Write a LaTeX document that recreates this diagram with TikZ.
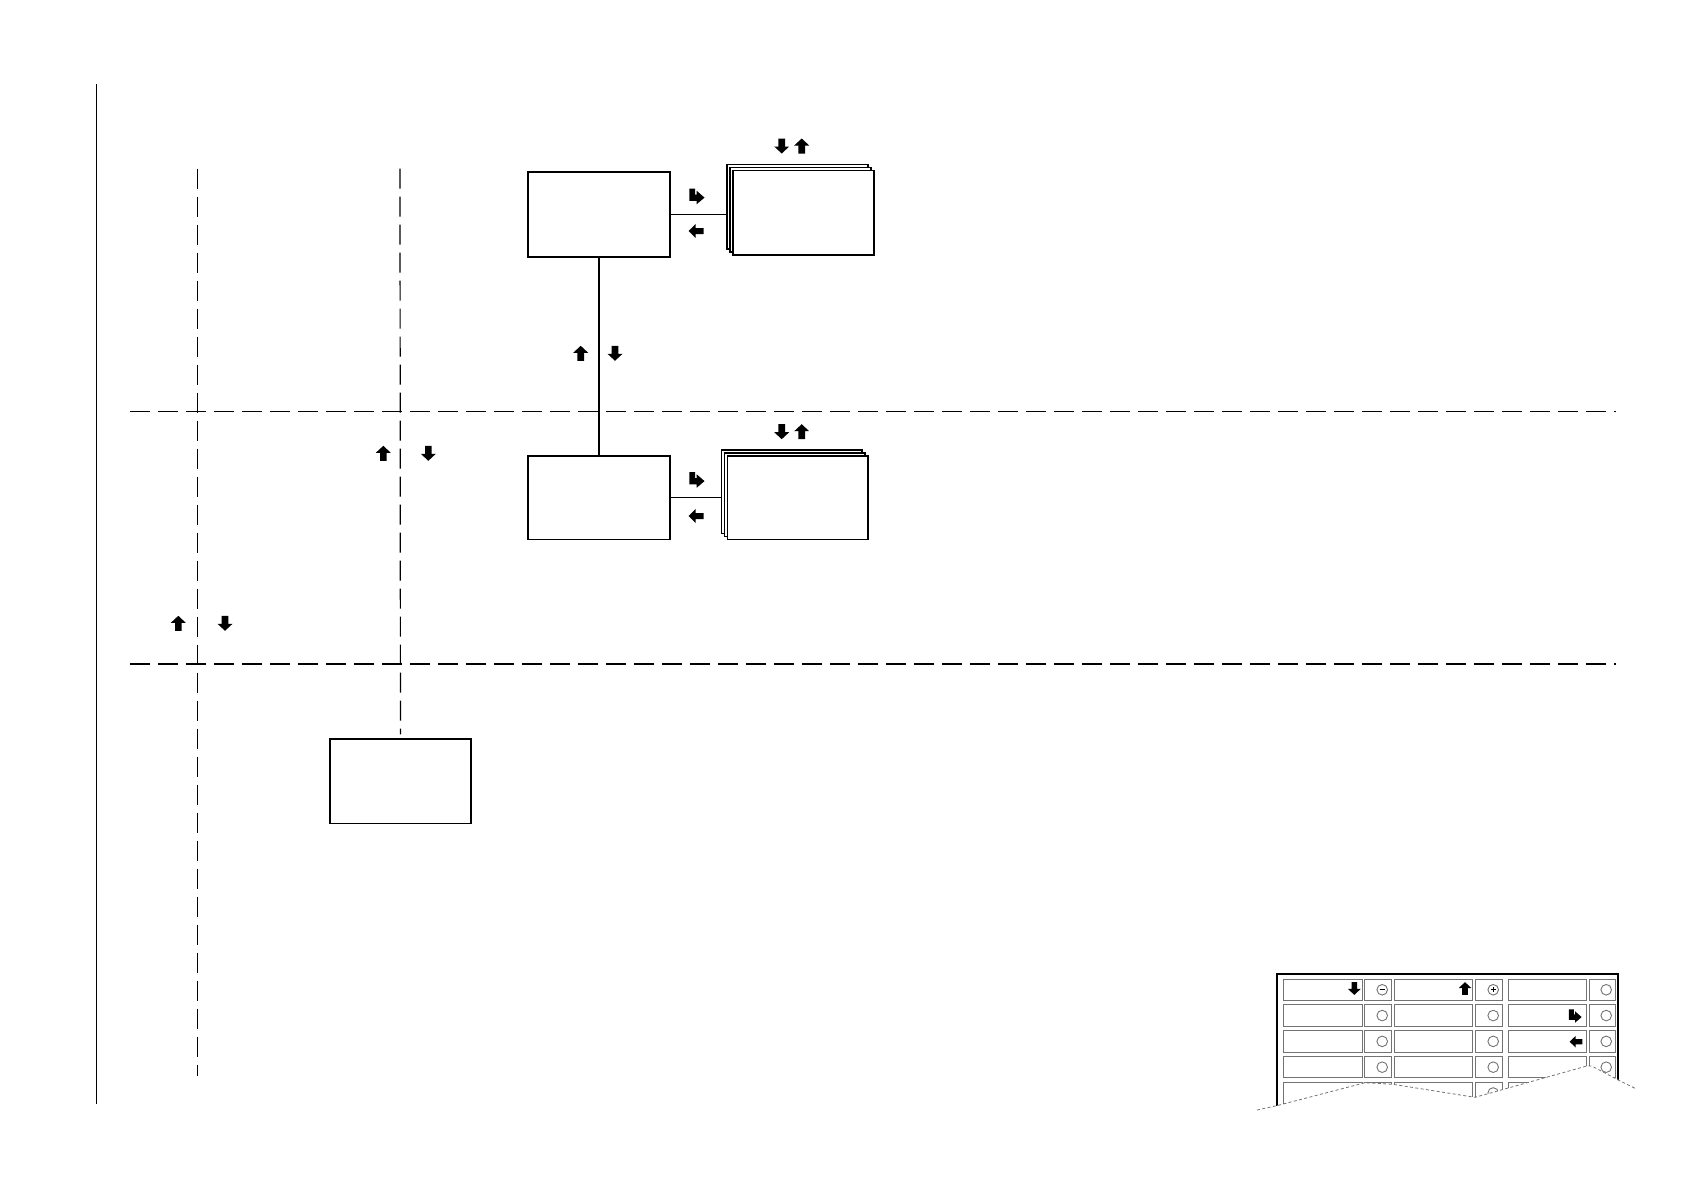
\documentclass[tikz,border=0pt]{standalone}
\begin{document}
\begin{tikzpicture}[x=0.5pt,y=-0.5pt,line width=0.65pt,
  box/.style={draw,fill=white,inner sep=0pt,anchor=north west,line width=0.65pt},
  dashline/.style={dash pattern=on 10pt off 4pt,line width=0.6pt},
  keyline/.style={draw=black!55,line width=0.45pt},
  keyframe/.style={draw=black,line width=0.9pt},
  breakline/.style={draw=black!55,line width=0.4pt,dash pattern=on 1.5pt off 1.2pt},
  upicon/.pic={\fill (0,-7.5)--(7.5,-0.5)--(3.3,-0.5)--(3.3,7.5)--(-3.3,7.5)--(-3.3,-0.5)--(-7.5,-0.5)--cycle;},
  downicon/.pic={\fill (0,7.5)--(7.5,0.5)--(3.3,0.5)--(3.3,-7.5)--(-3.3,-7.5)--(-3.3,0.5)--(-7.5,0.5)--cycle;},
  lefticon/.pic={\fill (-7.5,0)--(-0.5,-6.8)--(-0.5,-3)--(7.5,-3)--(7.5,3)--(-0.5,3)--(-0.5,6.8)--cycle;},
  entericon/.pic={\fill (-7.3,-7.5)--(-1.5,-7.5)--(-1.5,-1.5)--(0,-1.5)--(0,-5.2)--(7.8,1.6)--(0,8.2)--(0,4.8)--(-7.3,4.8)--cycle;}
]
\useasboundingbox (0,0) rectangle (1684,1190);

% frame line on the left
\coordinate (ltop) at (96.5,84);
\coordinate (lbot) at (96.5,1104);
\draw[line width=0.7pt] (ltop) -- (lbot);

% dashed separators
\coordinate (h1l) at (130,411.5); \coordinate (h1r) at (1616,411.5);
\coordinate (h2l) at (130,664); \coordinate (h2r) at (1616,664);
\draw[dashline] (h1l) -- (h1r);
\draw[dashline] (h2l) -- (h2r);
\coordinate (v1t) at (197.6,168.5); \coordinate (v1b) at (197.6,1076);
\draw[dashline] (v1t) -- (v1b);

% boxes
\node[box,minimum width=71pt,minimum height=42.5pt] (a) at (527.3,171.3) {};
\node[box,minimum width=71pt,minimum height=41.85pt] (b) at (527.3,455.3) {};
\node[box,minimum width=70.5pt,minimum height=42.35pt] (c) at (329.3,738.3) {};

% stacked boxes (top)
\node[box,minimum width=70.5pt,minimum height=42.15pt] (a2) at (726.3,164) {};
\node[box,minimum width=70.5pt,minimum height=42.15pt] (a1) at (729.3,167) {};
\node[box,minimum width=70.5pt,minimum height=42.15pt] (af) at (732.3,170) {};
% stacked boxes (middle)
\node[box,minimum width=70.3pt,minimum height=41.85pt] (b2) at (720.7,449.3) {};
\node[box,minimum width=70.3pt,minimum height=41.85pt] (b1) at (723.7,452.3) {};
\node[box,minimum width=70.3pt,minimum height=41.85pt] (bf) at (726.7,455.3) {};

% connectors
\draw (a.east) -- (a.east -| a2.west);
\draw (b.east) -- (b.east -| b2.west);
\draw (a.south) -- (b.north);
\coordinate (v2t) at (400,168.5);
\draw[dashline] (v2t) -- ([yshift=2pt]c.north);

% icons
\pic at (696.7,196) {entericon};
\pic at (696,231) {lefticon};
\pic at (781.7,146) {downicon};
\pic at (801.7,146) {upicon};
\pic at (696.7,479.5) {entericon};
\pic at (696,516) {lefticon};
\pic at (781.7,431.7) {downicon};
\pic at (801.7,431.7) {upicon};
\pic at (580.7,353.3) {upicon};
\pic at (615,353.3) {downicon};
\pic at (383.3,453.3) {upicon};
\pic at (428.3,453.3) {downicon};
\pic at (178.3,623.3) {upicon};
\pic at (225,623.3) {downicon};

% keypad (cut away)
\begin{scope}
\clip (1250,960) -- (1645,960) -- (1645,1088.3) -- (1635,1088.3) -- (1618.3,1080) -- (1591.7,1066) -- (1586.7,1066) -- (1475,1097.3) -- (1393,1084.3) -- (1365,1082.7) -- (1276.7,1105.7) -- (1257,1110) -- (1250,1110) -- cycle;
\foreach \ry in {979,1004.8,1030.6,1056.4,1082.2}{
  \foreach \lx/\lr/\bx/\br in {1283.3/1362.3/1364.3/1391.7,1394.3/1472.7/1475.3/1502.7,1508.3/1586.7/1589/1615.7}{
    \draw[keyline] (\lx,\ry) rectangle (\lr,\ry+21.5);
    \draw[keyline] (\bx,\ry) rectangle (\br,\ry+21.5);
    \draw[keyline] (\br-9.5,\ry+10.75) circle[radius=5.3];
  }
}
\draw[line width=0.5pt] (1379.6,989.75) -- (1384.8,989.75);
\draw[line width=0.5pt] (1490.6,989.75) -- (1495.8,989.75);
\draw[line width=0.5pt] (1493.2,987.15) -- (1493.2,992.35);
\draw[keyframe] (1276.7,1110) -- (1276.7,974.3) -- (1618.3,974.3) -- (1618.3,1090);
\end{scope}
\draw[breakline] (1257,1110) -- (1276.7,1105.7) -- (1365,1082.7) -- (1393,1084.3) -- (1475,1097.3) -- (1586.7,1066) -- (1591.7,1066) -- (1618.3,1080) -- (1635,1088.3);
\begin{scope}[scale=0.85]
\end{scope}
\pic[scale=0.85] at (1354.3,988.5) {downicon};
\pic[scale=0.85] at (1465,988.5) {upicon};
\pic[scale=0.85] at (1575,1015.7) {entericon};
\pic[scale=0.85] at (1576,1041.7) {lefticon};
\end{tikzpicture}
\end{document}
